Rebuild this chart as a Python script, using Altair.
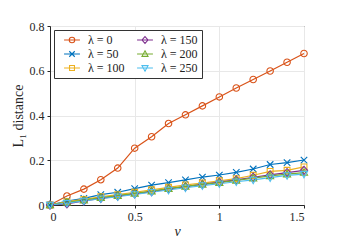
import altair as alt
import pandas as pd

nu = [0, 0.1, 0.2, 0.3, 0.4, 0.5, 0.6, 0.7, 0.8, 0.9, 1.0, 1.1, 1.2, 1.3, 1.4, 1.5]
lam0 = [0, 0.040, 0.071, 0.113, 0.165, 0.254, 0.305, 0.364, 0.403, 0.443, 0.483, 0.523, 0.561, 0.599, 0.638, 0.677]
lam50 = [0, 0.018, 0.030, 0.046, 0.057, 0.073, 0.089, 0.100, 0.112, 0.125, 0.134, 0.146, 0.161, 0.181, 0.189, 0.201]
lam100 = [0, 0.015, 0.025, 0.037, 0.046, 0.057, 0.068, 0.079, 0.090, 0.098, 0.108, 0.118, 0.133, 0.150, 0.155, 0.170]
lam150 = [0, 0.005, 0.018, 0.030, 0.040, 0.050, 0.060, 0.072, 0.082, 0.092, 0.102, 0.112, 0.124, 0.135, 0.145, 0.155]
lam200 = [0, 0.012, 0.022, 0.033, 0.042, 0.052, 0.062, 0.073, 0.083, 0.092, 0.100, 0.110, 0.120, 0.130, 0.138, 0.145]
lam250 = [0, 0.008, 0.018, 0.028, 0.037, 0.047, 0.057, 0.067, 0.077, 0.087, 0.095, 0.104, 0.112, 0.122, 0.132, 0.138]

names = ["λ = 0", "λ = 50", "λ = 100", "λ = 150", "λ = 200", "λ = 250"]
series = [lam0, lam50, lam100, lam150, lam200, lam250]
colors = ["#D95319", "#0072BD", "#EDB120", "#7E2F8E", "#77AC30", "#4DBEEE"]

marker_paths = [
    "M1,0A1,1 0 1,1 -1,0A1,1 0 1,1 1,0Z",
    "M-1,-1L1,1M-1,1L1,-1",
    "M-0.9,-0.9H0.9V0.9H-0.9Z",
    "M0,-1.25L1.1,0L0,1.25L-1.1,0Z",
    "M0,-1.15L1.1,0.85L-1.1,0.85Z",
    "M0,1.15L1.1,-0.85L-1.1,-0.85Z",
]
legend_paths = ["M-2.9,0H2.9" + p for p in marker_paths]

rows = []
for name, vals in zip(names, series):
    for x, y in zip(nu, vals):
        rows.append({"nu": x, "val": y, "lam": name})
df = pd.DataFrame(rows)

font = "Liberation Serif"

x_enc = alt.X("nu:Q", title="ν",
              scale=alt.Scale(domain=[0, 1.5], nice=False),
              axis=alt.Axis(values=[0, 0.5, 1, 1.5], format=".1~f",
                            titleFontStyle="italic", titlePadding=2))
y_enc = alt.Y("val:Q", title="L₁ distance",
              scale=alt.Scale(domain=[0, 0.8], nice=False),
              axis=alt.Axis(values=[0, 0.2, 0.4, 0.6, 0.8], format=".1~f",
                            titlePadding=4))

color_main = alt.Color("lam:N", scale=alt.Scale(domain=names, range=colors), legend=None)
shape_main = alt.Shape("lam:N", scale=alt.Scale(domain=names, range=marker_paths), legend=None)

base = alt.Chart(df)
lines = base.mark_line(strokeWidth=1.2).encode(x=x_enc, y=y_enc, color=color_main, detail="lam:N")
points = base.mark_point(filled=False, size=42, strokeWidth=1.1, opacity=1).encode(
    x=x_enc, y=y_enc, color=color_main, shape=shape_main)

leg = base.transform_filter("datum.val > 100").mark_point(
    filled=False, size=30, strokeWidth=1.1, opacity=1).encode(
    x=x_enc, y=y_enc,
    color=alt.Color("lam:N", title=None,
                    scale=alt.Scale(domain=names, range=colors),
                    legend=alt.Legend(orient="top-left", columns=2, offset=4,
                                      symbolSize=30, symbolOffset=8, labelOffset=10,
                                      columnPadding=6, rowPadding=2,
                                      padding=4, strokeColor="#333333",
                                      fillColor="white", labelFont=font,
                                      labelFontSize=12, labelColor="#222222",
                                      symbolStrokeWidth=1.1)),
    shape=alt.Shape("lam:N", title=None,
                    scale=alt.Scale(domain=names, range=legend_paths)),
)

chart = alt.layer(lines, points, leg).resolve_scale(
    color="independent", shape="independent"
).properties(
    width=254, height=179,
    autosize=alt.AutoSizeParams(type="none"),
    padding={"left": 42, "top": 18, "right": 31, "bottom": 37},
).configure_axis(
    labelFont=font, titleFont=font, labelFontSize=12, titleFontSize=14,
    labelColor="#262626", titleColor="#262626", titleFontWeight="normal",
    domainColor="#262626", tickColor="#262626", tickSize=3,
    gridColor="#e8e8e8", labelPadding=3,
).configure_view(stroke="#262626", strokeWidth=1)

chart.save("out.html", embed_options={"renderer": "svg", "actions": False})
